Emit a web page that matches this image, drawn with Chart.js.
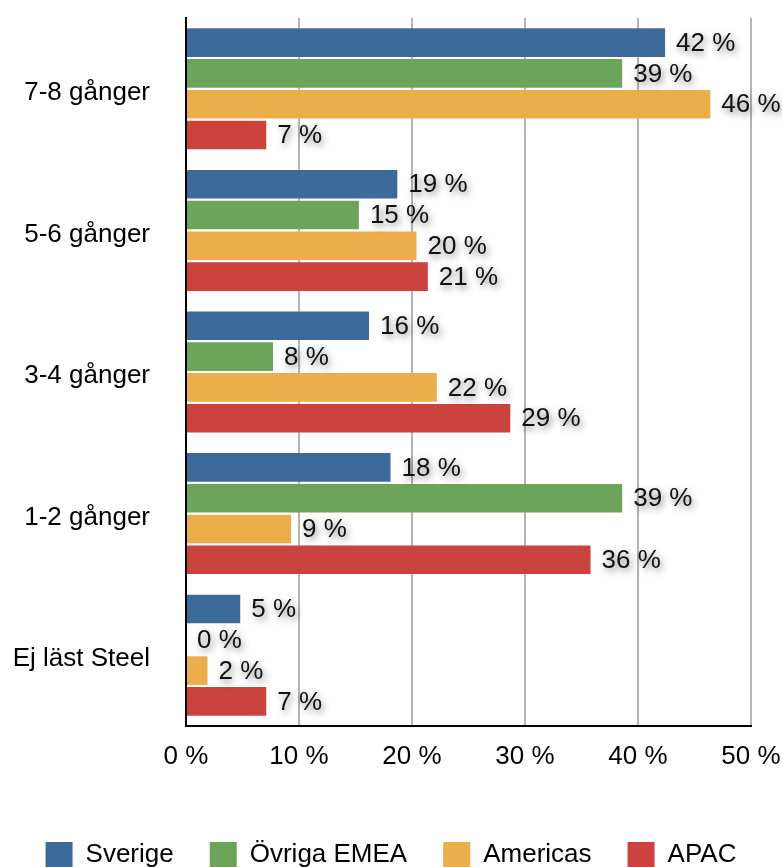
<!DOCTYPE html>
<html><head><meta charset="utf-8">
<script src="https://cdn.jsdelivr.net/npm/chart.js@4/dist/chart.umd.min.js"></script>
<style>html,body{margin:0;padding:0;background:#fff;overflow:hidden}canvas{display:block}</style>
</head><body>
<canvas id="c" width="782" height="880"></canvas>
<script>
const categories = ['7-8 gånger', '5-6 gånger', '3-4 gånger', '1-2 gånger', 'Ej läst Steel'];
const seriesNames = ['Sverige', 'Övriga EMEA', 'Americas', 'APAC'];
const sverige = [42.4, 18.7, 16.2, 18.1, 4.8];
const ovrigaEmea = [38.6, 15.3, 7.7, 38.6, 0];
const americas = [46.4, 20.4, 22.2, 9.3, 1.9];
const apac = [7.1, 21.4, 28.7, 35.8, 7.1];
const xTicks = [0, 10, 20, 30, 40, 50];
const colors = ['#3c6b9b', '#6ca559', '#ecae4b', '#cb423e'];

const FONT = '"Liberation Sans", Arial, Helvetica, sans-serif';

const valueLabels = {
  id: 'valueLabels',
  afterDatasetsDraw(chart) {
    const ctx = chart.ctx;
    ctx.save();
    ctx.font = '26px ' + FONT;
    ctx.textAlign = 'left';
    ctx.textBaseline = 'middle';
    ctx.fillStyle = '#111';
    ctx.shadowColor = 'rgba(0,0,0,0.5)';
    ctx.shadowBlur = 7;
    ctx.shadowOffsetX = 2;
    ctx.shadowOffsetY = 3;
    chart.data.datasets.forEach((ds, i) => {
      const meta = chart.getDatasetMeta(i);
      meta.data.forEach((el, j) => {
        ctx.fillText(Math.round(ds.data[j]) + ' %', el.x + 11, el.y + 1);
      });
    });
    ctx.restore();
  }
};

const seriesData = [sverige, ovrigaEmea, americas, apac];

new Chart(document.getElementById('c'), {
  type: 'bar',
  data: {
    labels: categories,
    datasets: seriesNames.map((n, i) => ({
      label: n,
      data: seriesData[i],
      backgroundColor: colors[i],
      borderWidth: 0,
      categoryPercentage: 0.87,
      barPercentage: 0.93
    }))
  },
  options: {
    indexAxis: 'y',
    responsive: false,
    animation: false,
    devicePixelRatio: 1,
    layout: { padding: { top: 18, right: 0, bottom: 2, left: 0 } },
    plugins: {
      tooltip: { enabled: false },
      legend: {
        position: 'bottom',
        labels: {
          font: { family: FONT, size: 26 },
          color: '#000',
          boxWidth: 27,
          boxHeight: 26,
          padding: 36
        }
      }
    },
    scales: {
      x: {
        min: 0, max: 50,
        afterBuildTicks(scale) { scale.ticks = xTicks.map(v => ({ value: v })); },
        afterFit(scale) {
          scale.height = 80;
          scale.paddingLeft = 0; scale.paddingRight = 31;
        },
        ticks: {
          callback: v => v + ' %',
          font: { family: FONT, size: 26 },
          color: '#000',
          padding: 15,
          maxRotation: 0
        },
        grid: {
          drawTicks: false,
          lineWidth: 2,
          color: c => (c.tick && c.tick.value === 0) ? 'rgba(0,0,0,0)' : '#b4b4b4'
        },
        border: { display: true, color: '#000', width: 2 }
      },
      y: {
        afterFit(scale) {
          scale.width = 186;
          scale.paddingTop = 0; scale.paddingBottom = 0;
        },
        ticks: {
          font: { family: FONT, size: 26 },
          color: '#000',
          padding: 36,
          labelOffset: 4
        },
        grid: { display: false, drawTicks: false },
        border: { display: true, color: '#000', width: 2 }
      }
    }
  },
  plugins: [valueLabels]
});
</script>
</body></html>
